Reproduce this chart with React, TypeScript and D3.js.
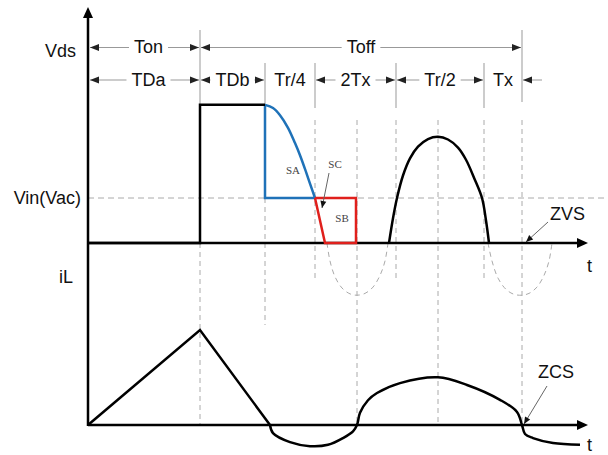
import React, { useEffect, useRef } from "react";
import * as d3 from "d3";

// interval labels along the top, edges in time units (0 = vertical axis)
const periodLabels = ["Ton", "Toff"];
const periodEdges = [0, 112, 434];
const phaseLabels = ["TDa", "TDb", "Tr/4", "2Tx", "Tr/2", "Tx"];
const phaseEdges = [0, 112, 177, 227, 308, 396, 434];
const phaseArrows = [true, true, false, true, true, false];

// Vds waveform (Vin = 1)
const vdsStep: [number, number][] = [[0, 0], [112, 0], [112, 3.07], [177, 3.07]];
const saCurve: [number, number][] = [
  [177, 3.07], [185, 3.0], [192, 2.84], [200, 2.56], [207, 2.22],
  [212, 1.95], [218, 1.58], [222, 1.32], [227, 1.0],
];
const saEdges: [number, number][] = [[227, 1], [177, 1], [177, 3.07]];
const sbBox: [number, number][] = [[227, 1], [237, 0], [268, 0], [268, 1], [227, 1]];
const humpPoints: [number, number][] = [
  [301, 0], [305, 0.55], [309, 1.0], [315, 1.5], [322, 1.88], [330, 2.14],
  [340, 2.31], [350, 2.36], [360, 2.3], [370, 2.12], [378, 1.85],
  [386, 1.45], [394, 1.0], [398, 0.5], [401, 0],
];
const ghostArcs: [number, number][][] = [
  [[239, 0], [242, -0.4], [247, -0.75], [254, -1.0], [262, -1.13], [269, -1.16],
   [277, -1.12], [285, -0.98], [292, -0.72], [297, -0.4], [300, 0]],
  [[400, 0], [404, -0.4], [410, -0.78], [418, -1.03], [426, -1.14], [434, -1.16],
   [441, -1.12], [449, -0.98], [456, -0.72], [461, -0.4], [464, 0]],
];

// iL waveform
const iLRamp: [number, number][] = [[0, 0], [112, 2.11], [182, 0]];
const iLRing: [number, number][] = [
  [182, 0], [185, -0.18], [202, -0.38], [222, -0.47], [240, -0.44],
  [255, -0.29], [265, -0.14], [269, 0], [272, 0.27], [280, 0.55],
  [289, 0.71], [312, 0.93], [350, 1.06], [379, 0.89], [412, 0.56],
  [429, 0.29], [434, 0], [437, -0.2], [445, -0.29], [465, -0.4], [492, -0.44],
];

// guide line times
const markTimes = [112, 177, 227, 308, 396, 434];
const dashTimes = [112, 177, 227, 269, 308, 350, 396, 434];

const FONT = "'Liberation Sans', Arial, sans-serif";

export default function App() {
  const ref = useRef<SVGSVGElement>(null);

  useEffect(() => {
    const svg = d3.select(ref.current);
    svg.selectAll("*").remove();

    const x = d3.scaleLinear().domain([0, 500]).range([88, 588]);
    const yV = d3.scaleLinear().domain([0, 1]).range([243, 198]);
    const yI = d3.scaleLinear().domain([0, 1]).range([425, 380]);

    const straightV = d3.line<[number, number]>().x(d => x(d[0])).y(d => yV(d[1]));
    const smoothV = d3.line<[number, number]>().x(d => x(d[0])).y(d => yV(d[1])).curve(d3.curveCatmullRom.alpha(0.5));
    const lineI = d3.line<[number, number]>().x(d => x(d[0])).y(d => yI(d[1]));
    const smoothI = d3.line<[number, number]>().x(d => x(d[0])).y(d => yI(d[1])).curve(d3.curveCatmullRom.alpha(0.5));

    const head = (tx: number, ty: number, dir: string, len = 9, hw = 3.5, fill = "#222") => {
      let pts;
      if (dir === "left") pts = [[tx, ty], [tx + len, ty - hw], [tx + len, ty + hw]];
      else if (dir === "right") pts = [[tx, ty], [tx - len, ty - hw], [tx - len, ty + hw]];
      else pts = [[tx, ty], [tx - hw, ty + len], [tx + hw, ty + len]];
      svg.append("polygon").attr("points", pts.map(p => p.join(",")).join(" ")).attr("fill", fill);
    };

    // Vin dashed level
    svg.append("line")
      .attr("x1", x(0)).attr("x2", 607).attr("y1", yV(1)).attr("y2", yV(1))
      .attr("stroke", "#aaa").attr("stroke-width", 1).attr("stroke-dasharray", "6,4");

    // solid marker lines at top
    markTimes.forEach(t => {
      let y1 = 63, y2 = 108;
      if (t === 112) { y1 = 30; y2 = yV(3.07); }
      if (t === 177) { y2 = yV(3.07); }
      if (t === 434) { y1 = 30; y2 = 102; }
      svg.append("line").attr("x1", x(t)).attr("x2", x(t)).attr("y1", y1).attr("y2", y2)
        .attr("stroke", "#999").attr("stroke-width", 1);
    });

    // dashed guide lines
    dashTimes.forEach(t => {
      let y1 = 120, y2 = 282;
      if (t === 112) y1 = yV(0);
      if (t === 177) { y1 = yV(1); y2 = 325; }
      if ([112, 269, 350, 434].includes(t)) y2 = yI(0);
      svg.append("line").attr("x1", x(t)).attr("x2", x(t)).attr("y1", y1).attr("y2", y2)
        .attr("stroke", "#aaa").attr("stroke-width", 1).attr("stroke-dasharray", "5,4");
    });

    // ghost half-waves
    ghostArcs.forEach(a => {
      svg.append("path").attr("d", smoothV(a)).attr("fill", "none")
        .attr("stroke", "#aaa").attr("stroke-width", 1).attr("stroke-dasharray", "5,4");
    });

    // interval rows
    const row = (labels: string[], edges: number[], arrows: boolean[], y: number) => {
      labels.forEach((lab, i) => {
        const a = x(edges[i]) + (i === 0 ? 2 : 1), b = x(edges[i + 1]) - 1;
        const cx = (a + b) / 2 + (i === 0 ? 4 : 0);
        const txt = svg.append("text").attr("x", cx).attr("y", y + 5.5)
          .attr("text-anchor", "middle").attr("font-family", FONT).attr("font-size", 18)
          .attr("fill", "#111").text(lab);
        if (!arrows[i]) return;
        const w = (txt.node() as SVGTextElement).getComputedTextLength();
        svg.append("line").attr("x1", a).attr("x2", cx - w / 2 - 5).attr("y1", y).attr("y2", y)
          .attr("stroke", "#999").attr("stroke-width", 1);
        svg.append("line").attr("x1", cx + w / 2 + 5).attr("x2", b).attr("y1", y).attr("y2", y)
          .attr("stroke", "#999").attr("stroke-width", 1);
        head(a, y, "left");
        head(b, y, "right");
      });
    };
    row(periodLabels, periodEdges, [true, true], 47.5);
    row(phaseLabels, phaseEdges, phaseArrows, 80);
    // Tx outer arrow
    svg.append("line").attr("x1", x(434) + 1).attr("x2", x(434) + 20).attr("y1", 80).attr("y2", 80)
      .attr("stroke", "#999").attr("stroke-width", 1);
    head(x(434) + 1, 80, "left");

    // SA region (blue)
    svg.append("path").attr("d", straightV(saEdges)).attr("fill", "none")
      .attr("stroke", "#1f72b8").attr("stroke-width", 2.5);
    svg.append("path").attr("d", smoothV(saCurve)).attr("fill", "none")
      .attr("stroke", "#1f72b8").attr("stroke-width", 2.5);

    // axes
    svg.append("line").attr("x1", x(0)).attr("x2", x(0)).attr("y1", yI(0) + 1).attr("y2", 14)
      .attr("stroke", "#000").attr("stroke-width", 2.5);
    head(x(0), 7, "up", 11, 5, "#000");
    [yV(0), yI(0)].forEach(yy => {
      svg.append("line").attr("x1", x(0)).attr("x2", 580).attr("y1", yy).attr("y2", yy)
        .attr("stroke", "#000").attr("stroke-width", 2.5);
      head(588, yy, "right", 11, 5, "#000");
    });

    // Vds waveform
    svg.append("path").attr("d", straightV(vdsStep)).attr("fill", "none")
      .attr("stroke", "#000").attr("stroke-width", 2.5);
    svg.append("path").attr("d", smoothV(humpPoints)).attr("fill", "none")
      .attr("stroke", "#000").attr("stroke-width", 2.5);
    svg.append("path").attr("d", straightV(sbBox)).attr("fill", "none")
      .attr("stroke", "#e0201c").attr("stroke-width", 2.5).attr("stroke-linejoin", "miter");

    // iL waveform
    svg.append("path").attr("d", lineI(iLRamp)).attr("fill", "none")
      .attr("stroke", "#000").attr("stroke-width", 2.5);
    svg.append("path").attr("d", smoothI(iLRing)).attr("fill", "none")
      .attr("stroke", "#000").attr("stroke-width", 2.5);

    // axis labels
    const label = (t: string, px: number, py: number, anchor = "end", size = 18, fam = FONT, col = "#111") =>
      svg.append("text").attr("x", px).attr("y", py).attr("text-anchor", anchor)
        .attr("font-family", fam).attr("font-size", size).attr("fill", col).text(t);
    label("Vds", 76, 57);
    label("Vin(Vac)", 81, 204);
    label("iL", 73, 283);
    label("t", 587, 272, "start");
    label("t", 587, 451, "start");
    label("ZVS", 550, 220, "start");
    label("ZCS", 538, 378, "start");

    // region labels
    const serif = "'Liberation Serif', 'Times New Roman', serif";
    label("SA", 293, 174, "middle", 11, serif, "#444");
    label("SC", 335, 168, "middle", 11, serif, "#444");
    label("SB", 342, 222, "middle", 11, serif, "#444");

    // leaders
    const leader = (x1: number, y1: number, x2: number, y2: number) => {
      svg.append("line").attr("x1", x1).attr("y1", y1).attr("x2", x2).attr("y2", y2)
        .attr("stroke", "#666").attr("stroke-width", 1);
      const ang = Math.atan2(y2 - y1, x2 - x1);
      const len = 7, hw = 3;
      const bx = x2 - len * Math.cos(ang), by = y2 - len * Math.sin(ang);
      const pts = [[x2, y2], [bx - hw * Math.sin(ang), by + hw * Math.cos(ang)], [bx + hw * Math.sin(ang), by - hw * Math.cos(ang)]];
      svg.append("polygon").attr("points", pts.map(p => p.join(",")).join(" ")).attr("fill", "#111");
    };
    leader(329, 173, 322, 208);
    leader(548, 222, 526, 242);
    leader(547, 386, 524, 424);
  }, []);

  return (
    <svg ref={ref} width={608} height={455}
      style={{ position: "absolute", left: 0, top: 0, background: "#fff" }} />
  );
}
